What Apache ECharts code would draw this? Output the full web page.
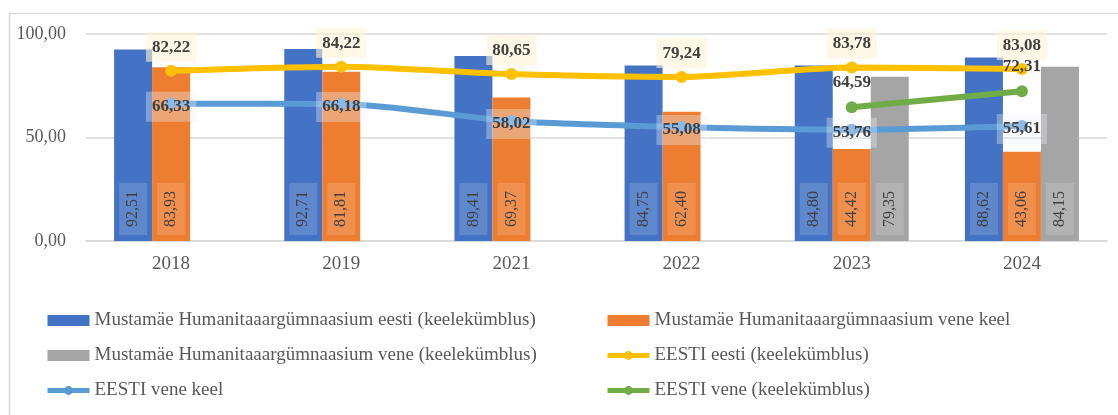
<!DOCTYPE html>
<html lang="et">
<head>
<meta charset="utf-8" />
<title>Mustamäe Humanitaargümnaasium</title>
<script src="https://cdn.jsdelivr.net/npm/echarts@6/dist/echarts.min.js"></script>
<style>
  html, body { margin: 0; padding: 0; background: #fff; }
  #main { width: 1118px; height: 415px; }
</style>
</head>
<body>
<div id="main"></div>
<script>
// years on the x axis
var years = ['2018', '2019', '2021', '2022', '2023', '2024'];

// bars (school)
var mhgEesti = [92.51, 92.71, 89.41, 84.75, 84.80, 88.62];
var mhgVeneKeel = [83.93, 81.81, 69.37, 62.40, 44.42, 43.06];
var mhgVeneKk = [null, null, null, null, 79.35, 84.15];

// lines (Estonia)
var eestiEesti = [82.22, 84.22, 80.65, 79.24, 83.78, 83.08];
var eestiVeneKeel = [66.33, 66.18, 58.02, 55.08, 53.76, 55.61];
var eestiVeneKk = [null, null, null, null, 64.59, 72.31];

var names = [
  'Mustamäe Humanitaaargümnaasium eesti (keelekümblus)',
  'Mustamäe Humanitaaargümnaasium vene keel',
  'Mustamäe Humanitaaargümnaasium vene (keelekümblus)',
  'EESTI eesti (keelekümblus)',
  'EESTI vene keel',
  'EESTI vene (keelekümblus)'
];

var FONT = '"Liberation Serif", "Times New Roman", serif';

function fmt(v) {
  return Number(v).toFixed(2).replace('.', ',');
}

function barLabel() {
  return {
    show: true,
    position: 'insideBottom',
    rotate: 90,
    distance: 6,
    align: 'left',
    verticalAlign: 'middle',
    fontFamily: FONT,
    fontSize: 16,
    color: '#404040',
    backgroundColor: 'rgba(255,255,255,0.15)',
    padding: [6, 8, 6, 8],
    formatter: function (p) { return fmt(p.value); }
  };
}

function barSeries(name, data, color) {
  return {
    name: name,
    type: 'bar',
    data: data,
    barWidth: 38,
    barGap: '0%',
    itemStyle: { color: color },
    label: barLabel(),
    z: 2
  };
}

function lineSeries(name, data, color, label) {
  return {
    name: name,
    type: 'line',
    data: data,
    smooth: 0.25,
    symbol: 'circle',
    symbolSize: 12,
    lineStyle: { width: 6, color: color },
    itemStyle: { color: color },
    label: label,
    z: 3
  };
}

var lineLabelBase = {
  show: true,
  fontFamily: FONT,
  fontSize: 17,
  fontWeight: 'bold',
  color: '#404040',
  formatter: function (p) { return fmt(p.value); }
};

var legendText = { fontFamily: FONT, fontSize: 19, color: '#595959' };
// legend line icons: thick like the series lines
var legendLine = { width: 5 };

var myChart = echarts.init(document.getElementById('main'), null, { renderer: 'canvas' });

var option = {
  backgroundColor: '#fff',
  animation: false,
  textStyle: { fontFamily: FONT },
  graphic: [{
    type: 'rect',
    left: 7,
    top: 11,
    shape: { width: 1200, height: 500 },
    style: { fill: null, stroke: '#d9d9d9', lineWidth: 1.5 },
    silent: true
  }],
  grid: { left: 86, right: 11, top: 34, bottom: 174 },
  legend: [{
    orient: 'vertical',
    left: 40,
    top: 306,
    itemGap: 16,
    itemWidth: 42,
    itemHeight: 11,
    textStyle: legendText,
    data: [
      { name: names[0], icon: 'rect' },
      { name: names[2], icon: 'rect' },
      { name: names[4], lineStyle: legendLine }
    ]
  }, {
    orient: 'vertical',
    left: 600,
    top: 306,
    itemGap: 16,
    itemWidth: 42,
    itemHeight: 11,
    textStyle: legendText,
    data: [
      { name: names[1], icon: 'rect' },
      { name: names[3], lineStyle: legendLine },
      { name: names[5], lineStyle: legendLine }
    ]
  }],
  xAxis: {
    type: 'category',
    data: years,
    axisTick: { show: false },
    axisLine: { lineStyle: { color: '#d9d9d9', width: 1.5 } },
    axisLabel: { fontFamily: FONT, fontSize: 19, color: '#595959', margin: 14 }
  },
  yAxis: {
    type: 'value',
    min: 0,
    max: 100,
    interval: 50,
    axisLine: { show: false },
    axisTick: { show: false },
    splitLine: { lineStyle: { color: '#d9d9d9', width: 1.5 } },
    axisLabel: {
      fontFamily: FONT, fontSize: 18, color: '#595959', margin: 20,
      formatter: function (v) { return fmt(v); }
    }
  },
  series: [
    barSeries(names[0], mhgEesti, '#4472C4'),
    barSeries(names[1], mhgVeneKeel, '#ED7D31'),
    barSeries(names[2], mhgVeneKk, '#A5A5A5'),
    lineSeries(names[3], eestiEesti, '#FFC000', Object.assign({}, lineLabelBase, {
      position: 'top',
      distance: 3,
      backgroundColor: 'rgba(255,244,214,0.6)',
      padding: [7, 6, 6, 6]
    })),
    lineSeries(names[4], eestiVeneKeel, '#5B9BD5', Object.assign({}, lineLabelBase, {
      position: 'inside',
      offset: [0, 3],
      backgroundColor: 'rgba(235,242,252,0.35)',
      padding: [7, 6, 6, 6]
    })),
    lineSeries(names[5], eestiVeneKk, '#70AD47', Object.assign({}, lineLabelBase, {
      position: 'top',
      distance: 10
    }))
  ]
};

myChart.setOption(option);
</script>
</body>
</html>
